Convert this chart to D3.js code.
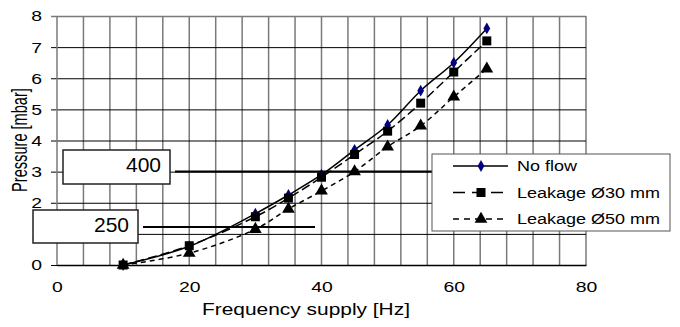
<!DOCTYPE html>
<html>
<head>
<meta charset="utf-8">
<script src="https://cdn.jsdelivr.net/npm/d3@7"></script>
<style>
  body { margin: 0; background: #fff; }
  text { font-family: "Liberation Sans", Arial, sans-serif; }
</style>
</head>
<body>
<div id="chart"></div>
<script>
// data
var freq = [10, 20, 30, 35, 40, 45, 50, 55, 60, 65]
var noFlow = [0, 0.6, 1.65, 2.25, 2.9, 3.7, 4.5, 5.6, 6.5, 7.6]
var leak30 = [0, 0.62, 1.55, 2.15, 2.82, 3.55, 4.3, 5.2, 6.2, 7.2]
var leak50 = [0, 0.38, 1.15, 1.8, 2.38, 3.0, 3.8, 4.47, 5.4, 6.3]
var xTicks = [0, 20, 40, 60, 80]
var yTicks = [0, 1, 2, 3, 4, 5, 6, 7, 8]
var seriesNames = ["No flow", "Leakage Ø30 mm", "Leakage Ø50 mm"]

var W = 680, H = 327
var margin = {top: 16, right: 94, bottom: 62, left: 57}

var svg = d3.select("#chart").append("svg")
    .attr("width", W).attr("height", H)

var x = d3.scaleLinear().domain([0, 80]).range([margin.left, W - margin.right])
var y = d3.scaleLinear().domain([0, 8]).range([H - margin.bottom, margin.top])

// the source picture is stretched sideways, so text is too
function stretch(sel, s) {
  sel.each(function () {
    var t = d3.select(this)
    var tx = +t.attr("x") || 0
    t.attr("transform", "translate(" + tx + ",0) scale(" + s + ",1) translate(" + (-tx) + ",0)")
  })
}

// vertical grid, every 4 Hz, grey
svg.append("g").selectAll("line")
    .data(d3.range(4, 81, 4))
    .enter().append("line")
    .attr("x1", d => x(d)).attr("x2", d => x(d))
    .attr("y1", y(0)).attr("y2", y(8))
    .attr("stroke", "#7a7a7a").attr("stroke-width", 1.5)

// horizontal grid with left ticks, black
var yaxis = svg.append("g")
    .attr("transform", "translate(" + x(0) + ",0)")
    .call(d3.axisLeft(y).tickValues(yTicks).tickSize(6).tickPadding(9))
yaxis.select(".domain").remove()
yaxis.selectAll(".tick line").attr("x2", x(80) - x(0)).attr("x1", -6).attr("stroke", "#000")
yaxis.selectAll(".tick text").attr("font-size", 15.5).attr("fill", "#000").call(stretch, 1.25)
yaxis.selectAll(".tick").filter(d => d == 8).select("line").attr("stroke", "#7a7a7a").attr("stroke-width", 1.5)

// left border
svg.append("line")
    .attr("x1", x(0)).attr("x2", x(0)).attr("y1", y(0)).attr("y2", y(8))
    .attr("stroke", "#7a7a7a").attr("stroke-width", 1.5)

// x axis
var xaxis = svg.append("g")
    .attr("transform", "translate(0," + y(0) + ")")
    .call(d3.axisBottom(x).tickValues(xTicks).tickSize(0).tickPadding(16))
xaxis.select(".domain").attr("stroke", "#000").attr("stroke-width", 1.5)
xaxis.selectAll(".tick text").attr("font-size", 15.5).attr("fill", "#000").call(stretch, 1.25)

// axis titles
svg.append("text")
    .attr("x", 306).attr("y", 315)
    .attr("text-anchor", "middle").attr("font-size", 17)
    .text("Frequency supply [Hz]")
    .call(stretch, 1.23)
svg.append("text")
    .attr("transform", "translate(27,140) rotate(-90) scale(1,1.45)")
    .attr("text-anchor", "middle").attr("font-size", 14.6)
    .text("Pressure [mbar]")

// series
var line = d3.line()
    .x(d => x(d[0])).y(d => y(d[1]))
    .curve(d3.curveCatmullRom.alpha(0.5))

var series = [
  {vals: noFlow, dash: null, legendDash: null, marker: "diamond", color: "#000080", size: 40},
  {vals: leak30, dash: "9,4", legendDash: "12,7", marker: "square", color: "#000", size: 81},
  {vals: leak50, dash: "5,4", legendDash: "6,5", marker: "triangle", color: "#000", size: 70}
]
var symbols = {diamond: d3.symbolDiamond, square: d3.symbolSquare, triangle: d3.symbolTriangle}

series.forEach(function (s) {
  var pts = freq.map((f, i) => [f, s.vals[i]])
  svg.append("path")
      .attr("d", line(pts))
      .attr("fill", "none").attr("stroke", "#000").attr("stroke-width", 1.5)
      .attr("stroke-dasharray", s.dash)
  svg.append("g").selectAll("path")
      .data(pts).enter().append("path")
      .attr("transform", d => "translate(" + x(d[0]) + "," + y(d[1]) + ")")
      .attr("d", d3.symbol().type(symbols[s.marker]).size(s.size))
      .attr("fill", s.color)
})

// overlay boxes with labels
var overlays = [
  {label: "400", bx: 63, by: 150, bw: 107, bh: 34, lx2: 432, ly: 171.5},
  {label: "250", bx: 33, by: 210, bw: 105, bh: 33, lx2: 315, ly: 227}
]
var defs = svg.append("defs")
overlays.forEach(function (o, i) {
  svg.append("line")
      .attr("x1", o.bx + o.bw + 5).attr("x2", o.lx2)
      .attr("y1", o.ly).attr("y2", o.ly)
      .attr("stroke", "#000").attr("stroke-width", 2)
  defs.append("clipPath").attr("id", "clip" + i)
      .append("rect").attr("x", o.bx).attr("y", o.by).attr("width", o.bw).attr("height", o.bh)
  svg.append("rect")
      .attr("x", o.bx).attr("y", o.by).attr("width", o.bw).attr("height", o.bh)
      .attr("fill", "#fff").attr("stroke", "#222").attr("stroke-width", 1.5)
  svg.append("text")
      .attr("x", o.bx + o.bw - 9).attr("y", o.by + 21.5)
      .attr("text-anchor", "end").attr("font-size", 21)
      .text(o.label)
  svg.append("text")
      .attr("clip-path", "url(#clip" + i + ")")
      .attr("x", o.bx + o.bw * 0.4).attr("y", o.by + o.bh + 12)
      .attr("font-size", 16)
      .text("D")
})

// legend
var lg = svg.append("g")
lg.append("rect")
    .attr("x", 432).attr("y", 154).attr("width", 238).attr("height", 77)
    .attr("fill", "#fff").attr("stroke", "#555").attr("stroke-width", 1)
series.forEach(function (s, i) {
  var ly = 166 + i * 26.5
  lg.append("line")
      .attr("x1", 453).attr("x2", 508).attr("y1", ly).attr("y2", ly)
      .attr("stroke", "#000").attr("stroke-width", 1.5)
      .attr("stroke-dasharray", s.legendDash)
  lg.append("path")
      .attr("transform", "translate(481," + ly + ")")
      .attr("d", d3.symbol().type(symbols[s.marker]).size(s.size))
      .attr("fill", s.color)
  lg.append("text")
      .attr("x", 517).attr("y", ly + 5.5)
      .attr("font-size", 15)
      .text(seriesNames[i])
      .call(stretch, 1.2)
})
</script>
</body>
</html>
